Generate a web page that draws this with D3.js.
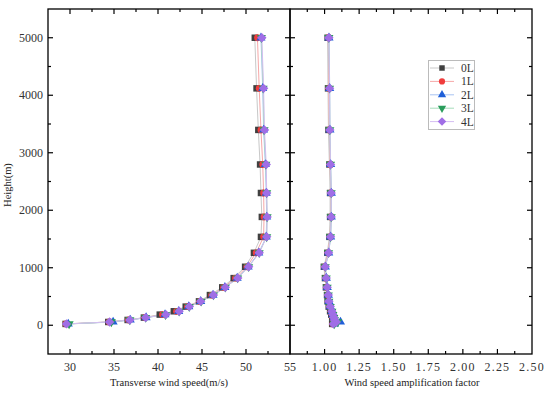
<!DOCTYPE html>
<html>
<head>
<meta charset="utf-8">
<script src="https://cdn.jsdelivr.net/npm/d3@7"></script>
<style>
  body { margin: 0; background: #fff; }
  svg { display: block; }
  .tick-label { font-family: "Liberation Serif", "DejaVu Serif", serif; font-size: 12px; fill: #333; }
  .axisText { font-family: "Liberation Serif", "DejaVu Serif", serif; font-size: 10.5px; fill: #222; }
</style>
</head>
<body>
<div class="chart"></div>
<script>
var svgWidth = 550;
var svgHeight = 394;

// heights (m) of each sample point
var heights = [23, 57, 92, 133, 185, 243, 324, 416, 525, 659, 820, 1017, 1260, 1537, 1884, 2300, 2796, 3397, 4120, 5000];

var seriesNames = ["0L", "1L", "2L", "3L", "4L"];

// transverse wind speed (m/s)
var speed0L = [29.5, 34.35, 36.55, 38.4, 40.2, 41.8, 43.15, 44.66, 45.9, 47.3, 48.6, 49.9, 50.9, 51.7, 51.8, 51.7, 51.6, 51.4, 51.2, 51.0];
var speed1L = [29.55, 34.45, 36.65, 38.5, 40.5, 42.1, 43.35, 44.75, 46.1, 47.45, 48.8, 50.1, 51.15, 52.0, 52.05, 52.0, 51.9, 51.7, 51.5, 51.3];
var speed2L = [29.8, 34.9, 36.85, 38.65, 40.8, 42.35, 43.5, 44.85, 46.25, 47.6, 49.0, 50.25, 51.45, 52.3, 52.35, 52.3, 52.2, 52.0, 51.9, 51.7];
var speed3L = [29.9, 34.7, 36.8, 38.6, 40.85, 42.4, 43.55, 44.9, 46.3, 47.65, 49.05, 50.3, 51.5, 52.35, 52.4, 52.35, 52.25, 52.05, 51.95, 51.75];
var speed4L = [29.6, 34.5, 36.8, 38.6, 40.9, 42.4, 43.56, 44.85, 46.3, 47.65, 49.06, 50.3, 51.5, 52.35, 52.4, 52.35, 52.3, 52.1, 52.0, 51.8];

// wind speed amplification factor
var amp0L = [1.055, 1.07, 1.06, 1.055, 1.048, 1.04, 1.03, 1.022, 1.018, 1.01, 1.003, 0.995, 1.02, 1.035, 1.04, 1.04, 1.035, 1.028, 1.025, 1.022];
var amp1L = [1.06, 1.08, 1.066, 1.06, 1.054, 1.047, 1.036, 1.027, 1.023, 1.015, 1.008, 1.0, 1.025, 1.04, 1.045, 1.045, 1.04, 1.034, 1.031, 1.027];
var amp2L = [1.072, 1.115, 1.073, 1.068, 1.061, 1.054, 1.042, 1.032, 1.028, 1.02, 1.013, 1.006, 1.03, 1.044, 1.049, 1.049, 1.044, 1.039, 1.037, 1.032];
var amp3L = [1.07, 1.095, 1.072, 1.067, 1.06, 1.053, 1.041, 1.031, 1.027, 1.019, 1.012, 1.005, 1.029, 1.043, 1.048, 1.048, 1.043, 1.038, 1.036, 1.031];
var amp4L = [1.064, 1.085, 1.072, 1.067, 1.06, 1.053, 1.041, 1.031, 1.027, 1.019, 1.012, 1.005, 1.029, 1.043, 1.048, 1.048, 1.043, 1.038, 1.036, 1.031];

var yTicks = [0, 1000, 2000, 3000, 4000, 5000];
var leftXTicks = [30, 35, 40, 45, 50, 55];
var rightXTicks = [1.00, 1.25, 1.50, 1.75, 2.00, 2.25, 2.50];

var markerColors = ["#404040", "#f03c3c", "#1f5fd8", "#2a9d5c", "#a06ee6"];
var lineColors = ["#c8c8c8", "#f6a8a8", "#a8c4f2", "#a6dcba", "#d4bdf2"];
var symbols = [d3.symbolSquare, d3.symbolCircle, d3.symbolTriangle, "down", "diamond"];
var markerSizes = [42, 36, 36, 36, 44];

var speedSeries = [speed0L, speed1L, speed2L, speed3L, speed4L];
var ampSeries = [amp0L, amp1L, amp2L, amp3L, amp4L];

var plotTop = 9, plotBottom = 354;
var leftPanel = { x0: 48, x1: 290 };
var rightPanel = { x0: 290, x1: 532 };

var svg = d3.select(".chart")
  .append("svg")
  .attr("width", svgWidth)
  .attr("height", svgHeight);

svg.append("rect").attr("width", svgWidth).attr("height", svgHeight).attr("fill", "#fff");

var yScale = d3.scaleLinear().domain([-500, 5500]).range([plotBottom, plotTop]);
var xLeft = d3.scaleLinear().domain([27.5, 55]).range([leftPanel.x0, leftPanel.x1]);
var xRight = d3.scaleLinear().domain([0.75, 2.5]).range([rightPanel.x0, rightPanel.x1]);

function markerPath(i, size) {
  var type = symbols[i];
  if (type === "down") type = d3.symbolTriangle;
  if (type === "diamond") type = d3.symbolSquare;
  return d3.symbol().type(type).size(size)();
}

function markerRotate(i) {
  if (symbols[i] === "down") return " rotate(180)";
  if (symbols[i] === "diamond") return " rotate(45)";
  return "";
}

function drawPanel(xScale, series, xTicksMajor, minorStep, fmt, showYLabels, p) {
  var g = svg.append("g");

  // lines
  series.forEach(function(vals, i) {
    var pts = heights.map(function(h, k) { return [vals[k], h]; });
    var line = d3.line()
      .x(d => xScale(d[0]))
      .y(d => yScale(d[1]));
    g.append("path")
      .attr("d", line(pts))
      .attr("fill", "none")
      .attr("stroke", lineColors[i])
      .attr("stroke-width", 1);
  });

  // markers
  series.forEach(function(vals, i) {
    g.selectAll(null)
      .data(heights.map(function(h, k) { return [vals[k], h]; }))
      .enter()
      .append("path")
      .attr("d", markerPath(i, markerSizes[i]))
      .attr("transform", d => `translate(${xScale(d[0])},${yScale(d[1])})` + markerRotate(i))
      .attr("fill", markerColors[i]);
  });

  // frame
  g.append("rect")
    .attr("x", p.x0).attr("y", plotTop)
    .attr("width", p.x1 - p.x0).attr("height", plotBottom - plotTop)
    .attr("fill", "none").attr("stroke", "#000").attr("stroke-width", 1.3);

  // x ticks (bottom and top, inward)
  var xMin = xScale.domain()[0], xMax = xScale.domain()[1];
  var allX = d3.range(xMin, xMax + 1e-9, minorStep);
  allX.forEach(function(v) {
    var isMajor = xTicksMajor.some(t => Math.abs(t - v) < 1e-6);
    var len = isMajor ? 5 : 3;
    var x = xScale(v);
    if (Math.abs(x - p.x0) < 0.5 || Math.abs(x - p.x1) < 0.5) return;
    g.append("line").attr("x1", x).attr("x2", x).attr("y1", plotBottom).attr("y2", plotBottom - len)
      .attr("stroke", "#000").attr("stroke-width", 1.2);
    g.append("line").attr("x1", x).attr("x2", x).attr("y1", plotTop).attr("y2", plotTop + len)
      .attr("stroke", "#000").attr("stroke-width", 1.2);
  });

  xTicksMajor.forEach(function(v) {
    g.append("text")
      .attr("class", "tick-label")
      .attr("x", xScale(v))
      .attr("y", 371)
      .attr("text-anchor", "middle")
      .style("letter-spacing", fmt === "amp" ? "1.2px" : "0px")
      .text(fmt === "amp" ? d3.format(".2f")(v) : v);
  });

  // y ticks (inward on both sides)
  d3.range(-500, 5500 + 1, 500).forEach(function(v) {
    var y = yScale(v);
    if (Math.abs(y - plotTop) < 0.5 || Math.abs(y - plotBottom) < 0.5) return;
    var len = v % 1000 === 0 ? 5 : 3;
    g.append("line").attr("x1", p.x0).attr("x2", p.x0 + len).attr("y1", y).attr("y2", y)
      .attr("stroke", "#000").attr("stroke-width", 1.2);
    g.append("line").attr("x1", p.x1).attr("x2", p.x1 - len).attr("y1", y).attr("y2", y)
      .attr("stroke", "#000").attr("stroke-width", 1.2);
  });

  if (showYLabels) {
    yTicks.forEach(function(v) {
      g.append("text")
        .attr("class", "tick-label")
        .attr("x", 43)
        .attr("y", yScale(v))
        .attr("dy", "0.35em")
        .attr("text-anchor", "end")
        .text(v);
    });
  }
  return g;
}

drawPanel(xLeft, speedSeries, leftXTicks, 2.5, "speed", true, leftPanel);
drawPanel(xRight, ampSeries, rightXTicks, 0.125, "amp", false, rightPanel);

// axis titles
svg.append("text")
  .attr("class", "axisText")
  .attr("x", 169)
  .attr("y", 386)
  .attr("text-anchor", "middle")
  .text("Transverse wind speed(m/s)");

svg.append("text")
  .attr("class", "axisText")
  .attr("x", 412)
  .attr("y", 386)
  .attr("text-anchor", "middle")
  .text("Wind speed amplification factor");

svg.append("text")
  .attr("class", "axisText")
  .attr("transform", "translate(11, 185) rotate(-90)")
  .attr("text-anchor", "middle")
  .text("Height(m)");

// legend
var legend = svg.append("g");
legend.append("rect")
  .attr("x", 428.5).attr("y", 60.5)
  .attr("width", 46).attr("height", 69)
  .attr("fill", "#fff").attr("stroke", "#bbb").attr("stroke-width", 1);

seriesNames.forEach(function(name, i) {
  var y = 68 + i * 13.4;
  legend.append("line")
    .attr("x1", 430).attr("x2", 454).attr("y1", y).attr("y2", y)
    .attr("stroke", lineColors[i]).attr("stroke-width", 1);
  legend.append("path")
    .attr("d", markerPath(i, i === 4 ? 36 : 30))
    .attr("transform", `translate(442,${y})` + markerRotate(i))
    .attr("fill", markerColors[i]);
  legend.append("text")
    .attr("class", "tick-label")
    .attr("x", 461)
    .attr("y", y)
    .attr("dy", "0.35em")
    .style("font-size", "11.5px")
    .text(name);
});
</script>
</body>
</html>
